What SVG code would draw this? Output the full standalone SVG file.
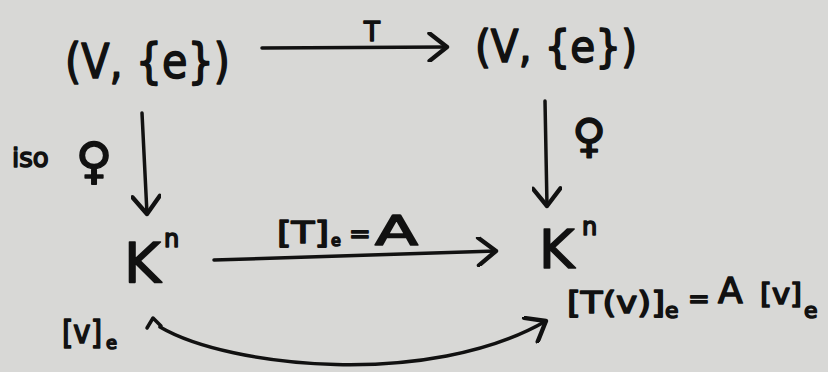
<svg xmlns="http://www.w3.org/2000/svg" width="828" height="372" viewBox="0 0 828 372">
<style>
text{font-family:"DejaVu Sans","Liberation Sans",sans-serif;fill:#111;stroke:#111;stroke-width:1.6;stroke-linejoin:round}
.ln{fill:none;stroke:#111;stroke-width:3.5;stroke-linecap:round;stroke-linejoin:round}
</style>
<defs>
<marker id="ah" markerUnits="userSpaceOnUse" markerWidth="30" markerHeight="30" refX="17" refY="12" orient="auto" viewBox="0 0 24 24">
<path d="M3 1 L17 12 L3 23" fill="none" stroke="#111" stroke-width="3.5" stroke-linecap="round" stroke-linejoin="round"/>
</marker>
</defs>
<rect width="828" height="372" fill="#d8d8d6"/>
<g id="V-left"><text x="65" y="78" font-size="48" textLength="165" lengthAdjust="spacingAndGlyphs">(V, {e})</text></g>
<g id="V-right"><text x="475" y="62" font-size="44" textLength="162" lengthAdjust="spacingAndGlyphs">(V, {e})</text></g>
<g id="Kn-left"><text x="124" y="282" font-size="56">K</text><text x="164" y="247" font-size="24">n</text></g>
<g id="Kn-right"><text x="539" y="268" font-size="54">K</text><text x="582" y="235" font-size="24">n</text></g>
<g id="labels">
<text x="372" y="41" font-size="26" text-anchor="middle">T</text>
<text x="12" y="167" font-size="26">iso</text>
<text x="94" y="178" font-size="50" text-anchor="middle">♀</text>
<text x="589" y="152" font-size="46" text-anchor="middle">♀</text>
<text x="277" y="243" font-size="30" textLength="52" lengthAdjust="spacingAndGlyphs">[T]</text>
<text x="331" y="246" font-size="16">e</text>
<text x="349" y="243" font-size="26">=</text>
<text x="375" y="245" font-size="40" textLength="43" lengthAdjust="spacingAndGlyphs">A</text>
<text x="567" y="313" font-size="30" textLength="98" lengthAdjust="spacingAndGlyphs">[T(v)]</text>
<text x="665" y="318" font-size="22">e</text>
<text x="688" y="308" font-size="26">=</text>
<text x="718" y="303" font-size="36">A</text>
<text x="760" y="304" font-size="28" textLength="42" lengthAdjust="spacingAndGlyphs">[v]</text>
<text x="804" y="318" font-size="22">e</text>
<text x="62" y="343" font-size="32" textLength="40" lengthAdjust="spacingAndGlyphs">[v]</text>
<text x="106" y="349" font-size="18">e</text>
</g>
<g id="connectors">
<path class="ln" d="M262 48 L447 47" marker-end="url(#ah)"/>
<path class="ln" d="M142 113 L147 214" marker-end="url(#ah)"/>
<path class="ln" d="M545 101 L547 206" marker-end="url(#ah)"/>
<path class="ln" d="M214 260 L496 251" marker-end="url(#ah)"/>
<path class="ln" d="M160 327 C 230 368, 430 388, 546 321" marker-end="url(#ah)"/>
<path class="ln" d="M147 328 L153 318 L161 326"/>
</g>
</svg>
